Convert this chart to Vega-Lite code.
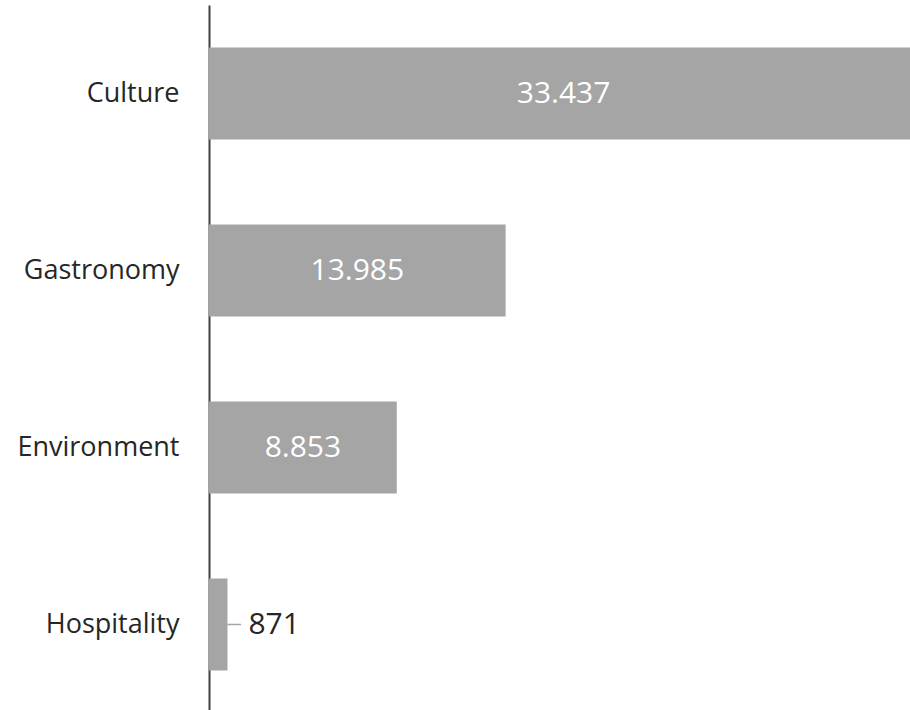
{
  "$schema": "https://vega.github.io/schema/vega-lite/v6.json",
  "autosize": "none",
  "width": 701,
  "height": 708,
  "padding": {"left": 209, "top": 5, "right": 0, "bottom": 0},
  "background": "white",
  "config": {
    "view": {"stroke": null},
    "font": "Open Sans",
    "locale": {"number": {"decimal": ",", "thousands": ".", "grouping": [3], "currency": ["", "€"]}}
  },
  "data": {"values": [
    {"category": "Culture", "value": 33437},
    {"category": "Gastronomy", "value": 13985},
    {"category": "Environment", "value": 8853},
    {"category": "Hospitality", "value": 871}
  ]},
  "encoding": {
    "y": {
      "field": "category", "type": "nominal", "sort": null,
      "scale": {"paddingInner": 0.48, "paddingOuter": 0.24},
      "axis": {
        "title": null, "ticks": false, "grid": false,
        "domainColor": "#404040", "domainWidth": 2,
        "labelFont": "Open Sans", "labelFontSize": 27, "labelColor": "#262626",
        "labelPadding": 30
      }
    }
  },
  "layer": [
    {
      "mark": {"type": "bar", "color": "#a5a5a5", "clip": true},
      "encoding": {
        "x": {"field": "value", "type": "quantitative", "scale": {"domain": [0, 33050], "nice": false, "zero": true}, "axis": null}
      }
    },
    {
      "transform": [{"filter": "datum.value > 5000"}, {"calculate": "datum.value / 2", "as": "mid"}],
      "mark": {"type": "text", "color": "white", "fontSize": 30, "font": "Open Sans", "align": "center", "baseline": "middle"},
      "encoding": {
        "x": {"field": "mid", "type": "quantitative"},
        "text": {"field": "value", "type": "quantitative", "format": ",d"}
      }
    },
    {
      "transform": [{"filter": "datum.value <= 5000"}],
      "mark": {"type": "rule", "color": "#a5a5a5", "strokeWidth": 1.5},
      "encoding": {
        "x": {"field": "value", "type": "quantitative"},
        "x2": {"datum": 1510}
      }
    },
    {
      "transform": [{"filter": "datum.value <= 5000"}],
      "mark": {"type": "text", "color": "#262626", "fontSize": 30, "font": "Open Sans", "align": "left", "baseline": "middle"},
      "encoding": {
        "x": {"datum": 1860},
        "text": {"field": "value", "type": "quantitative", "format": ",d"}
      }
    }
  ]
}
